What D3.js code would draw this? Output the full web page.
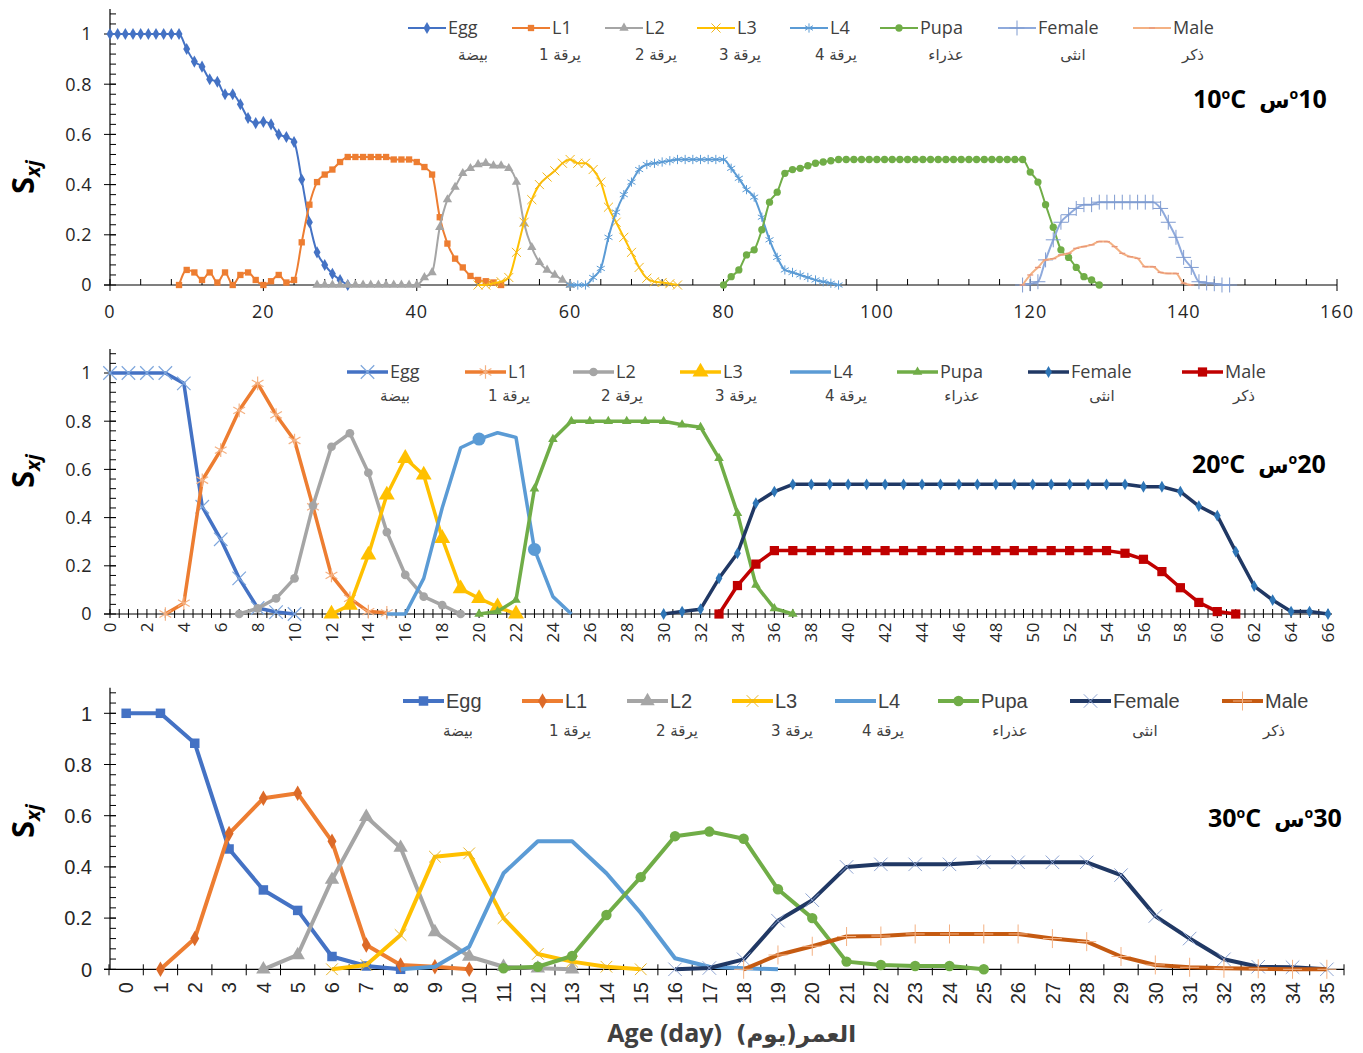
<!DOCTYPE html>
<html>
<head>
<meta charset="utf-8">
<script src="https://cdn.jsdelivr.net/npm/d3@7"></script>
<style>
    body { margin: 0; background: #fff; }
    svg { display: block; }
</style>
</head>
<body>
<svg id="chart" width="1363" height="1053"></svg>
<script>
// survival (Sxj) of each stage, three temperatures

const stages = ['Egg', 'L1', 'L2', 'L3', 'L4', 'Pupa', 'Female', 'Male'];
const stagesAr = ['بيضة', 'يرقة 1', 'يرقة 2', 'يرقة 3', 'يرقة 4', 'عذراء', 'انثى', 'ذكر'];
const yTicks = [0, 0.2, 0.4, 0.6, 0.8, 1];

// ---- 10 C : first day of each stage, then one value per day
const start10 = [0, 9, 27, 48, 60, 80, 119, 119];
const egg10 = [1, 1, 1, 1, 1, 1, 1, 1, 1, 1, .94, .89, .87, .82, .81, .76, .76, .72, .665, .645,
    .65, .64, .60, .59, .57, .42, .25, .13, .08, .045, .02, 0];
const l1_10 = [0, .06, .05, .02, .05, .01, .05, 0, .04, .05, .02, 0, .015, .04, .01, .02, .17, .32, .41, .44,
    .46, .49, .51, .51, .51, .51, .51, .51, .50, .50, .50, .49, .47, .44, .27, .165, .105, .07, .036, .02,
    .015, .01, 0];
const l2_10 = [0, 0, 0, 0, 0, 0, 0, 0, 0, 0, 0, 0, 0, 0, .03, .05, .23, .34, .39, .445,
    .465, .48, .485, .475, .475, .465, .41, .245, .15, .09, .06, .04, .02, 0];
const l3_10 = [0, 0, .007, .013, .03, .13, .25, .34, .40, .43, .455, .485, .50, .485, .485, .46, .41, .31, .25, .19,
    .13, .07, .027, .013, .01, .005, 0];
const l4_10 = [0, 0, 0, .03, .066, .19, .29, .36, .41, .46, .48, .485, .49, .495, .50, .50, .50, .50, .50, .50,
    .50, .465, .425, .38, .35, .27, .18, .11, .06, .05, .04, .03, .02, .013, .007, 0];
const pupa10 = [0, .033, .06, .12, .14, .22, .33, .37, .445, .46, .465, .475, .485, .49, .495,
    .50, .50, .50, .50, .50, .50, .50, .50, .50, .50, .50, .50, .50, .50, .50, .50, .50, .50, .50, .50,
    .50, .50, .50, .50, .50, .45, .41, .32, .23, .14, .11, .07, .033, .02, 0];
const female10 = [0, .005, .013, .10, .18, .25, .28, .305, .32, .32, .33, .33, .33, .33, .33, .33, .33, .33,
    .305, .25, .19, .11, .07, .013, .008, .005, 0, 0];
const male10 = [0, .04, .07, .10, .105, .12, .126, .146, .153, .16, .173, .173, .153, .126, .113, .106,
    .073, .073, .05, .046, .046, .007, 0];

// ---- 20 C
const start20 = [0, 3, 7, 12, 15, 20, 30, 33];
const egg20 = [1, 1, 1, 1, .957, .445, .31, .148, .025, .008, 0];
const l1_20 = [0, .045, .555, .68, .845, .957, .826, .72, .445, .16, .065, .01, .005];
const l2_20 = [0, .023, .065, .148, .45, .694, .75, .586, .34, .162, .072, .037, 0];
const l3_20 = [0, .037, .245, .494, .646, .577, .314, .105, .065, .03, 0];
const l4_20 = [0, 0, .148, .44, .69, .726, .752, .733, .268, .072, 0];
const l4_20Big = [20, 23];   // two days drawn with a big dot
const pupa20 = [0, .01, .058, .52, .725, .80, .80, .80, .80, .80, .80, .785, .775, .646, .418, .12, .023, 0];
const female20 = [0, .01, .02, .148, .252, .46, .508,
    .538, .538, .538, .538, .538, .538, .538, .538, .538, .538, .538, .538, .538, .538, .538, .538, .538, .538, .538,
    .528, .528, .508, .448, .408, .259, .116, .058, .01, .01, 0];
const male20 = [0, .118, .207,
    .263, .263, .263, .263, .263, .263, .263, .263, .263, .263, .263, .263, .263, .263, .263, .263, .263, .263, .263,
    .252, .227, .176, .109, .048, .01, 0];

// ---- 30 C (category axis, days 0..35)
const days30 = d3.range(0, 36);
const start30 = [0, 1, 4, 6, 8, 11, 16, 18];
const egg30 = [1, 1, .883, .47, .31, .23, .05, .013, 0];
const l1_30 = [0, .12, .53, .668, .6875, .50, .095, .017, .01, 0];
const l2_30 = [0, .056, .35, .596, .475, .145, .05, .01, .004, 0];
const l3_30 = [0, .017, .134, .44, .453, .20, .06, .03, .01, 0];
const l4_30 = [0, .01, .088, .375, .50, .50, .375, .22, .043, .01, .004, 0];
const pupa30 = [.004, .01, .052, .212, .36, .52, .538, .51, .3125, .20, .03, .017, .013, .013, 0];
const female30 = [0, .005, .039, .19, .27, .40, .41, .41, .41, .418, .418, .418, .418, .368, .208, .12, .039, .01, .008, 0];
const male30 = [0, .056, .09, .128, .13, .138, .138, .138, .138, .12, .108, .05, .017, .008, .004, .002, 0, 0];

const fontA = '"Open Sans", sans-serif';
const fontB = '"Liberation Sans", Arial, sans-serif';
const fontAr = '"DejaVu Sans", sans-serif';

// small dash marker (male at 10 C)
const symbolDash = {
    draw(ctx, size) {
        const r = Math.sqrt(size) / 2;
        ctx.moveTo(-r, 0);
        ctx.lineTo(r, 0);
    }
};

const svg = d3.select('#chart');

function drawYAxis(g, p) {
    const y = p.y;
    g.append('line')
        .attr('x1', 110).attr('x2', 110)
        .attr('y1', y(0)).attr('y2', y(1.1))
        .attr('stroke', '#000').attr('stroke-width', 1.2);

    // minor ticks every 0.04
    g.selectAll(null)
        .data(d3.range(1, 28).map(i => i * 0.04))
        .enter().append('line')
        .attr('x1', 110).attr('x2', 116)
        .attr('y1', d => y(d)).attr('y2', d => y(d))
        .attr('stroke', '#000');

    g.selectAll(null)
        .data(yTicks)
        .enter().append('line')
        .attr('x1', 104).attr('x2', 116)
        .attr('y1', d => y(d)).attr('y2', d => y(d))
        .attr('stroke', '#000');

    g.selectAll(null)
        .data(yTicks)
        .enter().append('text')
        .attr('x', 92).attr('y', d => y(d))
        .attr('dy', '0.36em')
        .attr('text-anchor', 'end')
        .attr('font-family', p.font).attr('font-size', p.tickSize)
        .attr('letter-spacing', p.tickSpacing)
        .attr('fill', '#262626')
        .text(d => d);

    // S xj
    const lab = g.append('text')
        .attr('transform', 'translate(34,' + p.labBottom + ') rotate(-90)')
        .attr('font-family', fontA).attr('font-weight', 'bold')
        .attr('fill', '#000');
    lab.append('tspan').attr('font-size', 31).text('S');
    lab.append('tspan').attr('font-size', 20).attr('font-style', 'italic').attr('dy', 6).text('xj');
}

function drawSeries(g, p) {
    p.data.forEach(function(vals, i) {
        const st = p.styles[i];
        const pts = vals.map((v, k) => [p.starts[i] + k, v]);

        g.append('path')
            .datum(pts)
            .attr('fill', 'none')
            .attr('stroke', st.color)
            .attr('stroke-width', st.w)
            .attr('stroke-linejoin', 'round')
            .attr('d', d3.line()
                .x(d => p.xp(d[0]))
                .y(d => p.y(d[1]))
                .curve(p.curve));

        if (st.sym) {
            g.selectAll(null)
                .data(pts)
                .enter().append('path')
                .attr('transform', d => 'translate(' + p.xp(d[0]) + ',' + p.y(d[1]) + ')')
                .attr('d', d3.symbol().type(st.sym).size(st.size))
                .attr('fill', st.fill || 'none')
                .attr('stroke', st.stroke || 'none')
                .attr('stroke-width', st.sw || 0);
        }
        if (st.big) {
            g.selectAll(null)
                .data(pts.filter(d => st.big.indexOf(d[0]) >= 0))
                .enter().append('circle')
                .attr('cx', d => p.xp(d[0])).attr('cy', d => p.y(d[1]))
                .attr('r', 6.5)
                .attr('fill', st.color);
        }
    });
}

function drawLegend(g, p) {
    stages.forEach(function(name, i) {
        const st = p.styles[i];
        const x0 = p.legX[i];
        g.append('line')
            .attr('x1', x0).attr('x2', x0 + p.legLen)
            .attr('y1', p.legY).attr('y2', p.legY)
            .attr('stroke', st.color).attr('stroke-width', st.w);
        if (st.sym) {
            g.append('path')
                .attr('transform', 'translate(' + (x0 + p.legLen / 2) + ',' + p.legY + ')')
                .attr('d', d3.symbol().type(st.sym).size(st.size))
                .attr('fill', st.fill || 'none')
                .attr('stroke', st.stroke || 'none')
                .attr('stroke-width', st.sw || 0);
        }
        g.append('text')
            .attr('x', x0 + p.legLen + 2).attr('y', p.legY + p.legDy)
            .attr('font-family', p.font).attr('font-size', p.legSize)
            .attr('fill', '#404040')
            .text(name);
        g.append('text')
            .attr('x', p.arX[i]).attr('y', p.arY)
            .attr('text-anchor', 'middle')
            .attr('font-family', fontAr).attr('font-size', 15)
            .attr('fill', '#404040')
            .text(stagesAr[i]);
    });
}

// "10oC  سo10" laid out piece by piece, left to right
function drawTitle(g, x, base, num) {
    const pieces = [
        {t: num}, {t: 'o', sup: true}, {t: 'C'}, {t: '\u00a0\u00a0'},
        {t: 'س', ar: true}, {t: 'o', sup: true}, {t: num}
    ];
    let cx = x;
    pieces.forEach(function(pc) {
        const t = g.append('text')
            .attr('x', cx)
            .attr('y', pc.sup ? base - 9 : base)
            .attr('font-family', pc.ar ? fontAr : fontA)
            .attr('font-weight', 'bold')
            .attr('font-size', pc.sup ? 14 : (pc.ar ? 22 : 25))
            .attr('fill', '#000')
            .text(pc.t);
        cx += t.node().getComputedTextLength();
    });
}

// ---------------- panel 1 : 10 C
(function() {
    const g = svg.append('g');
    const x = d3.scaleLinear().domain([0, 160]).range([110, 1337]);
    const p = {
        y: d3.scaleLinear().domain([0, 1.1]).range([285, 285 - 1.1 * 251]),
        xp: d => x(d),
        curve: d3.curveMonotoneX,
        font: fontA, tickSize: 18, tickSpacing: 0.5, labBottom: 194,
        starts: start10,
        data: [egg10, l1_10, l2_10, l3_10, l4_10, pupa10, female10, male10],
        styles: [
            {color: '#4472c4', w: 2, sym: d3.symbolDiamond, size: 42, fill: '#4472c4'},
            {color: '#ed7d31', w: 2, sym: d3.symbolSquare, size: 40, fill: '#ed7d31'},
            {color: '#a5a5a5', w: 2, sym: d3.symbolTriangle, size: 38, fill: '#a5a5a5'},
            {color: '#ffc000', w: 2, sym: d3.symbolTimes, size: 55, stroke: '#f2b61c', sw: 1},
            {color: '#5b9bd5', w: 2, sym: d3.symbolAsterisk, size: 60, stroke: '#5b9bd5', sw: 1},
            {color: '#70ad47', w: 2, sym: d3.symbolCircle, size: 42, fill: '#70ad47'},
            {color: '#8faadc', w: 2, sym: d3.symbolPlus, size: 75, stroke: '#7f9bd0', sw: 1},
            {color: '#f4b183', w: 2, sym: symbolDash, size: 36, stroke: '#e8977a', sw: 1.3}
        ],
        legX: [408, 512, 605, 697, 790, 880, 998, 1133], legLen: 38, legY: 28, legDy: 6, legSize: 18,
        arX: [473, 560, 656, 740, 836, 946, 1073, 1193], arY: 60
    };
    drawYAxis(g, p);

    g.append('line')
        .attr('x1', 104).attr('x2', 1337).attr('y1', 285).attr('y2', 285)
        .attr('stroke', '#000').attr('stroke-width', 1.2);
    g.selectAll(null)
        .data(d3.range(0, 161, 4).filter(d => d % 20))
        .enter().append('line')
        .attr('x1', d => x(d)).attr('x2', d => x(d))
        .attr('y1', 279).attr('y2', 285)
        .attr('stroke', '#000');
    g.selectAll(null)
        .data(d3.range(0, 161, 20))
        .enter().append('line')
        .attr('x1', d => x(d)).attr('x2', d => x(d))
        .attr('y1', 279).attr('y2', 291)
        .attr('stroke', '#000');
    g.selectAll(null)
        .data(d3.range(0, 161, 20))
        .enter().append('text')
        .attr('x', d => x(d)).attr('y', 318)
        .attr('text-anchor', 'middle')
        .attr('font-family', fontA).attr('font-size', 18).attr('letter-spacing', 1)
        .attr('fill', '#262626')
        .text(d => d);

    drawSeries(g, p);
    drawLegend(g, p);
    drawTitle(g, 1193, 108, '10');
})();

// ---------------- panel 2 : 20 C
(function() {
    const g = svg.append('g');
    const x = d3.scaleLinear().domain([0, 66]).range([110, 1328]);
    const p = {
        y: d3.scaleLinear().domain([0, 1.1]).range([614, 614 - 1.1 * 241]),
        xp: d => x(d),
        curve: d3.curveLinear,
        font: fontA, tickSize: 18, tickSpacing: 0.5, labBottom: 488,
        starts: start20,
        data: [egg20, l1_20, l2_20, l3_20, l4_20, pupa20, female20, male20],
        styles: [
            {color: '#4472c4', w: 3.5, sym: d3.symbolTimes, size: 120, stroke: '#7ea6dc', sw: 1.2},
            {color: '#ed7d31', w: 3.5, sym: d3.symbolAsterisk, size: 130, stroke: '#f4b183', sw: 1.2},
            {color: '#a5a5a5', w: 3.5, sym: d3.symbolCircle, size: 60, fill: '#a5a5a5'},
            {color: '#ffc000', w: 3.5, sym: d3.symbolTriangle, size: 110, fill: '#ffc000'},
            {color: '#5b9bd5', w: 3.5, sym: null, big: l4_20Big},
            {color: '#70ad47', w: 3.5, sym: d3.symbolTriangle, size: 40, fill: '#70ad47'},
            {color: '#203864', w: 3.5, sym: d3.symbolDiamond, size: 40, fill: '#2e75b6'},
            {color: '#c00000', w: 3.5, sym: d3.symbolSquare, size: 85, fill: '#c00000'}
        ],
        legX: [347, 465, 573, 680, 790, 897, 1028, 1182], legLen: 41, legY: 372, legDy: 6, legSize: 18,
        arX: [395, 509, 622, 736, 846, 962, 1102, 1244], arY: 401
    };
    drawYAxis(g, p);

    g.append('line')
        .attr('x1', 104).attr('x2', 1332).attr('y1', 614).attr('y2', 614)
        .attr('stroke', '#000').attr('stroke-width', 1.2);
    g.selectAll(null)
        .data(d3.range(0, 133).map(i => i / 2))
        .enter().append('line')
        .attr('x1', d => x(d)).attr('x2', d => x(d))
        .attr('y1', 609).attr('y2', 618)
        .attr('stroke', '#000');
    g.selectAll(null)
        .data(d3.range(0, 67, 2))
        .enter().append('text')
        .attr('transform', d => 'translate(' + x(d) + ',622) rotate(-90)')
        .attr('dy', '0.36em')
        .attr('text-anchor', 'end')
        .attr('font-family', fontA).attr('font-size', 17).attr('letter-spacing', 0.5)
        .attr('fill', '#262626')
        .text(d => d);

    drawSeries(g, p);
    drawLegend(g, p);
    drawTitle(g, 1192, 473, '20');
})();

// ---------------- panel 3 : 30 C
(function() {
    const g = svg.append('g');
    const band = d3.scaleBand().domain(days30).range([109, 1344]);
    const p = {
        y: d3.scaleLinear().domain([0, 1.1]).range([969.3, 969.3 - 1.1 * 256]),
        xp: d => band(d) + band.bandwidth() / 2,
        curve: d3.curveLinear,
        font: fontB, tickSize: 20, tickSpacing: 0, labBottom: 838,
        starts: start30,
        data: [egg30, l1_30, l2_30, l3_30, l4_30, pupa30, female30, male30],
        styles: [
            {color: '#4472c4', w: 4, sym: d3.symbolSquare, size: 90, fill: '#4472c4'},
            {color: '#ed7d31', w: 4, sym: d3.symbolDiamond, size: 70, fill: '#dc6a28'},
            {color: '#a5a5a5', w: 4, sym: d3.symbolTriangle, size: 90, fill: '#a5a5a5'},
            {color: '#ffc000', w: 4, sym: d3.symbolTimes, size: 90, stroke: '#e8b52a', sw: 1},
            {color: '#5b9bd5', w: 4, sym: null},
            {color: '#70ad47', w: 4, sym: d3.symbolCircle, size: 85, fill: '#70ad47'},
            {color: '#203864', w: 4, sym: d3.symbolTimes, size: 120, stroke: '#8ea4d2', sw: 1},
            {color: '#c55a11', w: 4, sym: d3.symbolPlus, size: 120, stroke: '#f4b183', sw: 1}
        ],
        legX: [403, 522, 627, 732, 835, 938, 1070, 1222], legLen: 41, legY: 701, legDy: 7, legSize: 20,
        arX: [458, 570, 677, 792, 883, 1010, 1145, 1274], arY: 736
    };
    drawYAxis(g, p);

    g.append('line')
        .attr('x1', 104).attr('x2', 1344).attr('y1', p.y(0)).attr('y2', p.y(0))
        .attr('stroke', '#000').attr('stroke-width', 1.2);
    g.selectAll(null)
        .data(days30.concat([36]))
        .enter().append('line')
        .attr('x1', d => 109 + d * band.step()).attr('x2', d => 109 + d * band.step())
        .attr('y1', p.y(0) - 5).attr('y2', p.y(0) + 6)
        .attr('stroke', '#000');
    g.selectAll(null)
        .data(days30)
        .enter().append('text')
        .attr('transform', d => 'translate(' + p.xp(d) + ',982) rotate(-90)')
        .attr('dy', '0.36em')
        .attr('text-anchor', 'end')
        .attr('font-family', fontB).attr('font-size', 20)
        .attr('fill', '#262626')
        .text(d => d);

    drawSeries(g, p);
    drawLegend(g, p);
    drawTitle(g, 1208, 827, '30');

    // x axis title
    g.append('text')
        .attr('x', 722).attr('y', 1042)
        .attr('text-anchor', 'end')
        .attr('font-family', fontA).attr('font-weight', 'bold').attr('font-size', 25)
        .attr('fill', '#404040')
        .text('Age (day)');
    g.append('text')
        .attr('x', 796).attr('y', 1042)
        .attr('text-anchor', 'middle')
        .attr('direction', 'rtl')
        .attr('font-family', fontAr).attr('font-weight', 'bold').attr('font-size', 23)
        .attr('fill', '#404040')
        .text('العمر(يوم)');
})();
</script>
</body>
</html>
